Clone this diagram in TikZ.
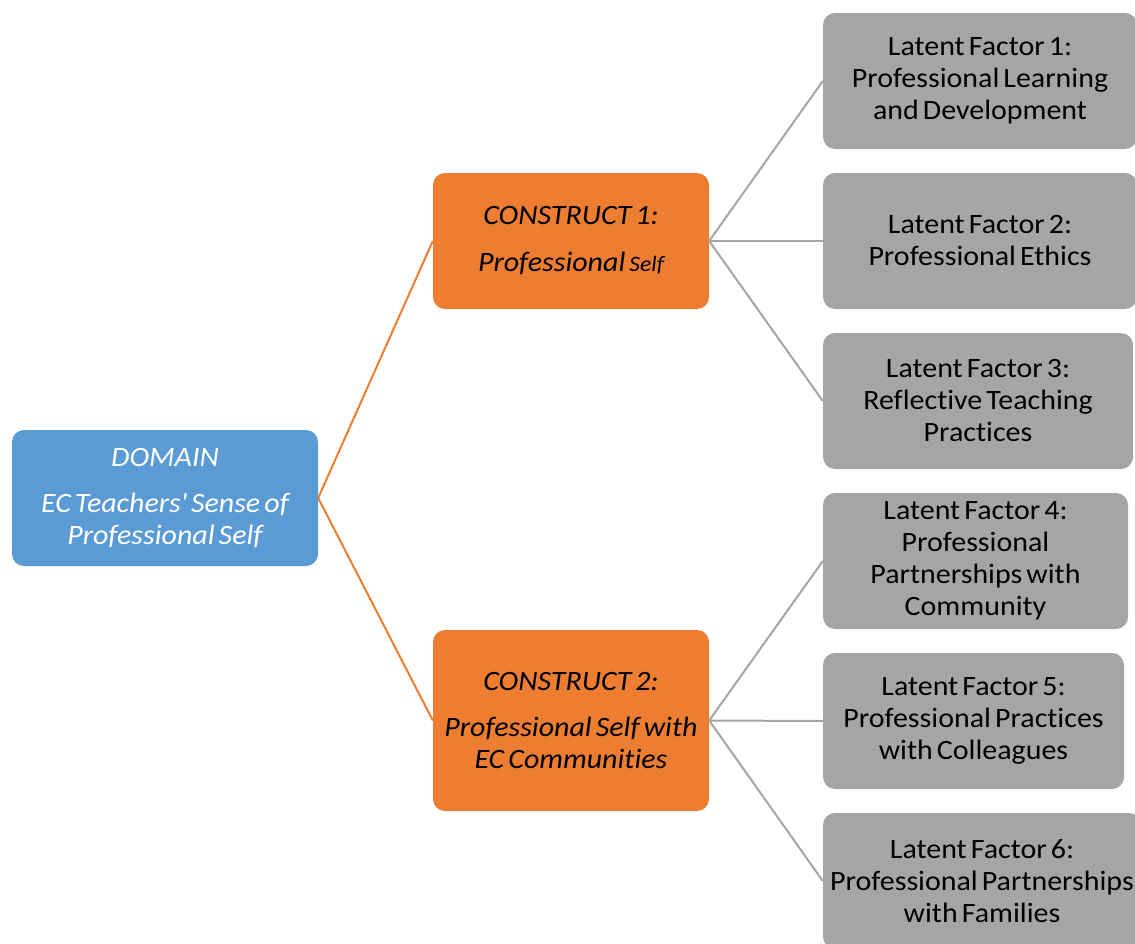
\documentclass[tikz,border=0pt]{standalone}
\usepackage{fontspec}
\setmainfont{Carlito}[FakeStretch=1.07, WordSpace=0.6, Ligatures={NoCommon}]
\definecolor{dblue}{HTML}{5B9BD5}
\definecolor{corange}{HTML}{ED7D31}
\definecolor{lgray}{HTML}{A5A5A5}
\definecolor{lline}{HTML}{A5A5A5}
\tikzset{
  box/.style={rounded corners=12pt, inner sep=0pt, align=center, font=\fontsize{28}{32}\selectfont},
  domainbox/.style={box, fill=dblue, text=white, minimum width=306pt, minimum height=136pt, font=\fontsize{28}{32}\selectfont\itshape},
  constructbox/.style={box, fill=corange, text=black, minimum width=276pt, font=\fontsize{28}{32}\selectfont\itshape},
  latentbox/.style={box, fill=lgray, text=black, minimum height=136pt},
  orangeline/.style={draw=corange, line width=2pt},
  grayline/.style={draw=lline, line width=2pt},
}
\begin{document}
\begin{tikzpicture}[x=1pt,y=-1pt]
\useasboundingbox (0,0) rectangle (1135,943);
\node[domainbox] (dom) at (165,498) {DOMAIN\\[14pt]EC Teachers\textquotesingle{} Sense of\\Professional Self};
\node[constructbox, minimum height=136pt] (c1) at (571,241) {CONSTRUCT 1:\\[15pt]Professional {\fontsize{22}{32}\selectfont Self}};
\node[constructbox, minimum height=181pt] (c2) at (571,720.5) {CONSTRUCT 2:\\[14pt]Professional Self with\\EC Communities};
\node[latentbox, minimum width=314pt] (l1) at (980,81) {Latent Factor 1:\\Professional Learning\\and Development};
\node[latentbox, minimum width=314pt] (l2) at (980,241) {Latent Factor 2:\\Professional Ethics};
\node[latentbox, minimum width=310pt] (l3) at (978,401) {Latent Factor 3:\\Reflective Teaching\\Practices};
\node[latentbox, minimum width=305pt] (l4) at (975.5,561) {Latent Factor 4:\\Professional\\Partnerships with\\Community};
\node[latentbox, minimum width=301pt] (l5) at (973.5,721) {Latent Factor 5:\\Professional Practices\\with Colleagues};
\node[latentbox, minimum width=318pt] (l6) at (982,881) {Latent Factor 6:\\Professional Partnerships\\with Families};
\draw[orangeline] (dom.east) -- (c1.west);
\draw[orangeline] (dom.east) -- (c2.west);
\draw[grayline] (c1.east) -- (l1.west);
\draw[grayline] (c1.east) -- (l2.west);
\draw[grayline] (c1.east) -- (l3.west);
\draw[grayline] (c2.east) -- (l4.west);
\draw[grayline] (c2.east) -- (l5.west);
\draw[grayline] (c2.east) -- (l6.west);
\end{tikzpicture}
\end{document}
